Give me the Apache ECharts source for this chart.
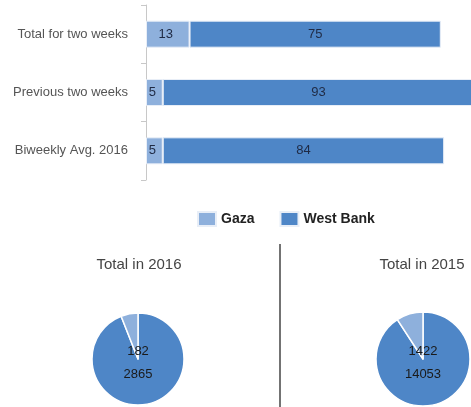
<!DOCTYPE html>
<html>
<head>
<meta charset="utf-8">
<script src="https://cdn.jsdelivr.net/npm/echarts@6/dist/echarts.min.js"></script>
<style>
html,body{margin:0;padding:0;background:#fff;}
#chart{width:471px;height:407px;}
</style>
</head>
<body>
<div id="chart"></div>
<script>
const categories = ['Total for two weeks', 'Previous two weeks', 'Biweekly Avg. 2016'];
const gazaBar = [13, 5, 5];
const westBankBar = [75, 93, 84];
const seriesNames = ['Gaza', 'West Bank'];
const pieTitles = ['Total in 2016', 'Total in 2015'];
const pie2016 = { gaza: 182, westBank: 2865 };
const pie2015 = { gaza: 1422, westBank: 14053 };

const GAZA_COLOR = '#8EB0DC';
const WB_COLOR = '#4E86C7';
const FONT = '"Liberation Sans", Arial, sans-serif';

function pieSeries(d, center, radius) {
  return {
    type: 'pie',
    center: center,
    radius: radius,
    startAngle: 90,
    clockwise: true,
    silent: true,
    itemStyle: { borderColor: '#fff', borderWidth: 1.5 },
    label: {
      show: true,
      position: 'center',
      fontFamily: FONT,
      fontSize: 13,
      color: '#1a1a1a',
      lineHeight: 23,
      offset: [0, 4]
    },
    labelLine: { show: false },
    emphasis: { disabled: true },
    data: [
      { name: seriesNames[1], value: d.westBank, itemStyle: { color: WB_COLOR }, label: { show: false } },
      { name: seriesNames[0], value: d.gaza, itemStyle: { color: GAZA_COLOR },
        label: { show: true, formatter: d.gaza + '\n' + d.westBank } }
    ]
  };
}

const chart = echarts.init(document.getElementById('chart'), null, { renderer: 'canvas' });
chart.setOption({
  animation: false,
  backgroundColor: '#fff',
  color: [GAZA_COLOR, WB_COLOR],
  title: [
    { text: pieTitles[0], left: 139, top: 257, padding: 0, textAlign: 'center',
      textStyle: { fontFamily: FONT, fontSize: 15, fontWeight: 'normal', color: '#444' } },
    { text: pieTitles[1], left: 422, top: 257, padding: 0, textAlign: 'center',
      textStyle: { fontFamily: FONT, fontSize: 15, fontWeight: 'normal', color: '#444' } }
  ],
  legend: {
    data: seriesNames,
    left: 197,
    top: 211,
    padding: 0,
    itemWidth: 18,
    itemHeight: 14,
    itemGap: 25,
    icon: 'rect',
    selectedMode: false,
    textStyle: { fontFamily: FONT, fontSize: 14, fontWeight: 'bold', color: '#222' }
  },
  grid: { left: 146, top: 5, width: 335, height: 175, containLabel: false, outerBoundsMode: 'none' },
  xAxis: { type: 'value', min: 0, max: 100, show: false },
  yAxis: {
    type: 'category',
    data: categories,
    inverse: true,
    axisLine: { show: true, lineStyle: { color: '#c8c8c8', width: 1 } },
    axisTick: { show: true, length: 5, lineStyle: { color: '#c8c8c8' } },
    axisLabel: { fontFamily: FONT, fontSize: 13, color: '#555', margin: 18 }
  },
  series: [
    { name: seriesNames[0], type: 'bar', stack: 'a', data: gazaBar, barWidth: 27, silent: true,
      itemStyle: { color: GAZA_COLOR, borderColor: '#e8eef7', borderWidth: 1 },
      label: { show: true, position: 'inside', offset: [-2, 0], fontFamily: FONT, fontSize: 13, color: '#1f2a44' } },
    { name: seriesNames[1], type: 'bar', stack: 'a', data: westBankBar, barWidth: 27, silent: true,
      itemStyle: { color: WB_COLOR, borderColor: '#e8eef7', borderWidth: 1 },
      label: { show: true, position: 'inside', fontFamily: FONT, fontSize: 13, color: '#1f2a44' } },
    pieSeries(pie2016, [138, 359], 46),
    pieSeries(pie2015, [423, 359], 47)
  ],
  graphic: [
    { type: 'line', shape: { x1: 280, y1: 244, x2: 280, y2: 407 }, style: { stroke: '#444', lineWidth: 1.5 }, silent: true }
  ]
});
</script>
</body>
</html>
